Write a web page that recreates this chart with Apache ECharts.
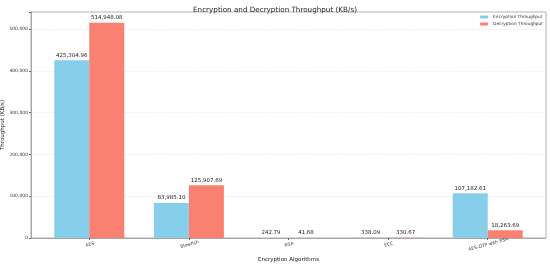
<!DOCTYPE html>
<html><head><meta charset="utf-8">
<script src="https://cdn.jsdelivr.net/npm/echarts@6/dist/echarts.min.js"></script>
<style>html,body{margin:0;padding:0;background:#fff}#c{width:550px;height:265px}</style>
</head><body><div id="c"></div>
<script>
const categories = ["AES", "Blowfish", "RSA", "ECC", "AES-OTP with RSA"];
const encryption = [425304.96, 83985.10, 242.79, 338.09, 107182.61];
const decryption = [514948.08, 125907.69, 41.68, 330.67, 18263.69];
const yTicks = [0, 100000, 200000, 300000, 400000, 500000];

const fmt = v => v.toLocaleString('en-US', {minimumFractionDigits: 2, maximumFractionDigits: 2});
const font = 'DejaVu Sans';
const idx = categories.map((_, i) => i);
const ymax = Math.max(...encryption, ...decryption) * 1.05;

const chart = echarts.init(document.getElementById('c'), null, {renderer: 'canvas'});
const lbl = {show: true, position: 'top', distance: 2, fontSize: 5.5, color: '#222', fontFamily: font,
  formatter: p => fmt(p.value[1])};
chart.setOption({
  animation: false,
  backgroundColor: '#fff',
  title: {text: 'Encryption and Decryption Throughput (KB/s)', left: 'center', top: 2,
    textStyle: {fontSize: 7.2, fontWeight: 'normal', color: '#222', fontFamily: font}},
  legend: {orient: 'vertical', right: 7, top: 15, itemWidth: 8, itemHeight: 3, itemGap: 3, padding: 0,
    textStyle: {fontSize: 4.3, color: '#333', fontFamily: font},
    data: ['Encryption Throughput', 'Decryption Throughput']},
  grid: {left: 31, right: 4, top: 12, bottom: 27, show: true, borderColor: '#999', borderWidth: 0.8,
    containLabel: false, outerBoundsMode: 'none'},
  xAxis: {type: 'value', min: -0.585, max: 4.585,
    name: 'Encryption Algorithms', nameLocation: 'middle', nameGap: 19, nameMoveOverlap: false,
    nameTextStyle: {fontSize: 5.5, color: '#222', fontFamily: font},
    axisLine: {show: true, onZero: false, lineStyle: {color: '#999', width: 0.8}},
    axisTick: {show: true, customValues: idx, length: 2, lineStyle: {color: '#666'}},
    axisLabel: {customValues: idx, formatter: v => categories[Math.round(v)], rotate: 15, align: 'center',
      verticalAlign: 'top', margin: 4, fontSize: 4.5, color: '#333', fontFamily: font},
    splitLine: {show: false}},
  yAxis: {type: 'value', min: 0, max: ymax, interval: 100000,
    name: 'Throughput (KB/s)', nameLocation: 'middle', nameGap: 25, nameMoveOverlap: false,
    nameTextStyle: {fontSize: 5.5, color: '#222', fontFamily: font},
    axisLine: {show: true, onZero: false, lineStyle: {color: '#999', width: 0.8}},
    axisTick: {show: true, length: 2, lineStyle: {color: '#666'}},
    axisLabel: {fontSize: 4.5, color: '#333', fontFamily: font, margin: 3,
      formatter: v => yTicks.includes(v) ? v.toLocaleString('en-US') : ''},
    splitLine: {show: true, lineStyle: {color: '#e4e4e4', type: 'dashed', width: 0.6}}},
  series: [
    {name: 'Encryption Throughput', type: 'bar', barWidth: 35, barGap: '0%',
      itemStyle: {color: '#87CEEB'}, label: lbl,
      data: encryption.map((v, i) => [idx[i], v])},
    {name: 'Decryption Throughput', type: 'bar', barWidth: 35, barGap: '0%',
      itemStyle: {color: '#FA8072'}, label: lbl,
      data: decryption.map((v, i) => [idx[i], v])}
  ]
});
</script></body></html>
